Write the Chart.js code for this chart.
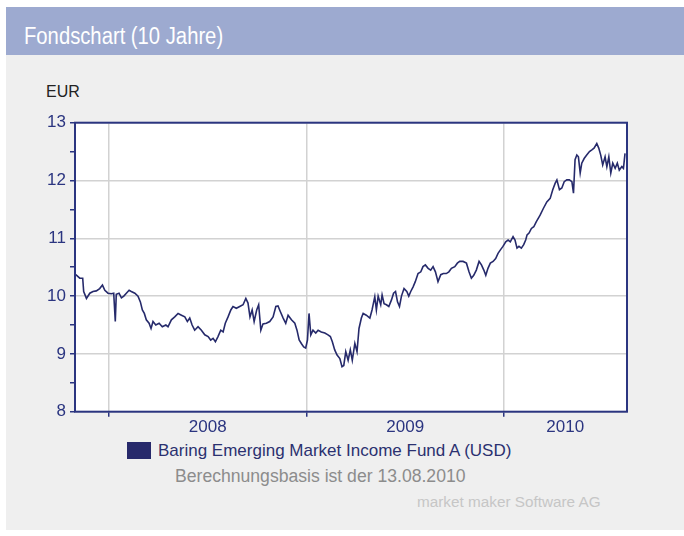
<!DOCTYPE html>
<html>
<head>
<meta charset="utf-8">
<script src="https://cdn.jsdelivr.net/npm/chart.js@4"></script>
<style>
  html, body { margin:0; padding:0; background:#ffffff; }
  body { width:684px; height:536px; position:relative; overflow:hidden; font-family:"Liberation Sans", Arial, sans-serif; }
  #panel { position:absolute; left:6px; top:7px; width:678px; height:523px; background:#efefef; }
  #header { position:absolute; left:6px; top:7px; width:678px; height:48px; background:#9daad0; }
  #title { position:absolute; left:18px; top:14px; color:#ffffff; font-size:23px; line-height:30px; white-space:nowrap; transform:scaleX(0.88); transform-origin:left center; }
  #unit { position:absolute; left:46px; top:83px; font-size:16px; line-height:18px; color:#222222; }
  #chartwrap { position:absolute; left:0; top:100px; width:684px; height:340px; }
  #legendBox { position:absolute; left:127px; top:442px; width:24px; height:17px; background:#27296b; }
  #legendText { position:absolute; left:158px; top:441px; font-size:17px; line-height:20px; color:#2b3170; white-space:nowrap; }
  #basis { position:absolute; left:175px; top:466px; font-size:17.6px; line-height:20px; color:#8c8c8c; white-space:nowrap; }
  #credit { position:absolute; left:417px; top:493px; font-size:15.3px; line-height:18px; color:#c6c6c6; white-space:nowrap; }
</style>
</head>
<body>
<div id="panel"></div>
<div id="header"><div id="title">Fondschart (10 Jahre)</div></div>
<div id="unit">EUR</div>
<div id="chartwrap"><canvas id="c" width="684" height="340" style="width:684px;height:340px"></canvas></div>
<div id="legendBox"></div>
<div id="legendText"></div>
<div id="basis">Berechnungsbasis ist der 13.08.2010</div>
<div id="credit">market maker Software AG</div>
<script>
// ---- data (time as decimal year) ----
const seriesName = "Baring Emerging Market Income Fund A (USD)";
const times = [
2007.832,2007.852,2007.867,2007.872,2007.886,2007.903,2007.919,2007.936,2007.953,2007.967,
2007.979,2007.995,2008.012,2008.024,2008.032,2008.037,2008.051,2008.063,2008.075,2008.088,
2008.102,2008.113,2008.131,2008.147,2008.159,2008.169,2008.179,2008.189,2008.203,2008.213,
2008.223,2008.237,2008.254,2008.270,2008.288,2008.299,2008.316,2008.333,2008.350,2008.367,
2008.384,2008.397,2008.409,2008.421,2008.434,2008.451,2008.468,2008.485,2008.502,2008.515,
2008.527,2008.539,2008.552,2008.566,2008.578,2008.589,2008.603,2008.617,2008.628,2008.645,
2008.662,2008.679,2008.693,2008.704,2008.714,2008.725,2008.735,2008.748,2008.758,2008.769,
2008.780,2008.797,2008.814,2008.831,2008.845,2008.856,2008.868,2008.882,2008.895,2008.907,
2008.924,2008.941,2008.952,2008.963,2008.974,2008.986,2008.996,2009.005,2009.013,2009.022,
2009.033,2009.047,2009.059,2009.075,2009.093,2009.109,2009.121,2009.131,2009.143,2009.155,
2009.169,2009.180,2009.189,2009.199,2009.211,2009.222,2009.232,2009.245,2009.256,2009.266,
2009.278,2009.287,2009.303,2009.321,2009.332,2009.346,2009.354,2009.363,2009.376,2009.383,
2009.393,2009.405,2009.417,2009.430,2009.441,2009.451,2009.461,2009.471,2009.481,2009.494,
2009.508,2009.518,2009.528,2009.540,2009.551,2009.565,2009.579,2009.590,2009.602,2009.616,
2009.629,2009.641,2009.653,2009.666,2009.680,2009.693,2009.708,2009.721,2009.734,2009.751,
2009.764,2009.776,2009.793,2009.810,2009.823,2009.835,2009.847,2009.860,2009.874,2009.886,
2009.898,2009.908,2009.919,2009.931,2009.945,2009.958,2009.970,2009.982,2009.995,2010.009,
2010.021,2010.032,2010.046,2010.056,2010.066,2010.076,2010.088,2010.100,2010.110,2010.117,
2010.127,2010.139,2010.151,2010.164,2010.178,2010.183,2010.200,2010.217,2010.234,2010.247,
2010.259,2010.268,2010.281,2010.293,2010.305,2010.318,2010.331,2010.344,2010.352,2010.360,
2010.369,2010.377,2010.386,2010.394,2010.406,2010.419,2010.433,2010.445,2010.456,2010.470,
2010.480,2010.490,2010.500,2010.512,2010.521,2010.531,2010.541,2010.551,2010.563,2010.574,
2010.584,2010.597,2010.605,2010.613
];
const prices = [
10.37,10.31,10.31,10.08,9.96,10.05,10.08,10.09,10.13,10.19,
10.10,10.05,10.04,10.05,9.56,10.03,10.05,9.97,10.00,10.05,
10.10,10.08,10.05,10.00,9.90,9.76,9.70,9.59,9.53,9.44,
9.56,9.50,9.53,9.47,9.50,9.47,9.59,9.64,9.70,9.67,
9.64,9.56,9.62,9.50,9.41,9.47,9.41,9.33,9.30,9.24,
9.27,9.21,9.30,9.41,9.38,9.53,9.64,9.76,9.82,9.79,
9.82,9.85,9.96,9.88,9.64,9.76,9.56,9.76,9.85,9.41,
9.52,9.53,9.56,9.64,9.82,9.83,9.73,9.62,9.53,9.67,
9.59,9.53,9.41,9.24,9.18,9.12,9.10,9.24,9.70,9.33,
9.41,9.36,9.41,9.38,9.36,9.33,9.30,9.21,9.07,8.98,
8.92,8.78,8.80,9.04,8.89,9.07,8.89,9.18,9.04,9.44,
9.62,9.70,9.67,9.62,9.76,9.99,9.76,10.00,9.85,10.02,
9.87,9.85,9.82,9.93,10.05,10.08,9.90,9.82,10.00,10.13,
10.08,10.00,10.08,10.16,10.25,10.39,10.42,10.51,10.54,10.48,
10.45,10.51,10.42,10.25,10.37,10.39,10.39,10.42,10.48,10.51,
10.57,10.60,10.60,10.57,10.42,10.31,10.36,10.45,10.60,10.54,
10.45,10.36,10.48,10.57,10.60,10.65,10.74,10.80,10.86,10.94,
10.97,10.94,11.03,10.97,10.83,10.86,10.83,10.89,10.97,11.06,
11.09,11.17,11.20,11.29,11.37,11.40,11.52,11.63,11.69,11.84,
11.95,12.01,11.84,11.87,11.98,12.01,12.01,11.98,11.78,12.36,
12.44,12.41,12.13,12.30,12.38,12.44,12.50,12.53,12.56,12.64,
12.56,12.44,12.27,12.41,12.24,12.41,12.13,12.30,12.21,12.30,
12.18,12.24,12.21,12.47
];
const xMin = 2007.828, xMax = 2010.623;
const yearGridTicks = [2008, 2009, 2010];
const yearLabelTicks = [2008.5, 2009.5, 2010.31];
const yearLabels = ["2008", "2009", "2010"];
const yMin = 8, yMax = 13;
const yTickLabels = ["8","9","10","11","12","13"];

document.getElementById('legendText').textContent = seriesName;

const navy = '#2b3580';
const gridGray = '#d2d2d2';

const frame = {
  id: 'frame',
  beforeDraw(chart) {
    const a = chart.chartArea, ctx = chart.ctx;
    ctx.save();
    ctx.fillStyle = '#ffffff';
    ctx.fillRect(a.left, a.top, a.right - a.left, a.bottom - a.top);
    ctx.restore();
  },
  afterDraw(chart) {
    const a = chart.chartArea, ctx = chart.ctx;
    ctx.save();
    ctx.strokeStyle = navy;
    ctx.lineWidth = 2;
    ctx.strokeRect(a.left, a.top, a.right - a.left, a.bottom - a.top);
    ctx.restore();
  }
};

new Chart(document.getElementById('c'), {
  type: 'line',
  data: {
    datasets: [{
      label: seriesName,
      data: times.map((t, i) => ({ x: t, y: prices[i] })),
      borderColor: '#262a6b',
      borderWidth: 1.6,
      pointRadius: 0,
      tension: 0,
      fill: false
    }]
  },
  options: {
    responsive: false,
    animation: false,
    events: [],
    layout: { padding: { left: 0, top: 22.7, right: 57, bottom: 0 } },
    plugins: { legend: { display: false }, tooltip: { enabled: false } },
    scales: {
      x: {
        type: 'linear',
        min: xMin, max: xMax,
        afterBuildTicks(scale) {
          scale.ticks = yearGridTicks.concat(yearLabelTicks).sort((a, b) => a - b).map(v => ({ value: v }));
        },
        afterFit(scale) { scale.height = 28.3; },
        border: { display: false },
        grid: {
          color: ctx => (ctx.tick && yearGridTicks.includes(ctx.tick.value)) ? gridGray : 'rgba(0,0,0,0)',
          tickColor: ctx => (ctx.tick && yearGridTicks.includes(ctx.tick.value)) ? navy : 'rgba(0,0,0,0)',
          lineWidth: 1.5,
          tickLength: 5,
          tickWidth: 1.5
        },
        ticks: {
          autoSkip: false,
          maxRotation: 0,
          padding: 0,
          color: navy,
          font: { family: '"Liberation Sans", Arial, sans-serif', size: 17 },
          callback: v => {
            const i = yearLabelTicks.indexOf(v);
            return i >= 0 ? yearLabels[i] : '';
          }
        }
      },
      y: {
        min: yMin, max: yMax,
        afterBuildTicks(scale) {
          const t = [];
          for (let v = yMin; v <= yMax + 1e-9; v += 0.5) t.push({ value: v });
          scale.ticks = t;
        },
        afterFit(scale) { scale.width = 75; },
        border: { display: false },
        grid: {
          color: ctx => (ctx.tick && Number.isInteger(ctx.tick.value)) ? gridGray : 'rgba(0,0,0,0)',
          tickColor: navy,
          lineWidth: 1.5,
          tickLength: 5,
          tickWidth: 1.5
        },
        ticks: {
          padding: 4,
          color: navy,
          font: { family: '"Liberation Sans", Arial, sans-serif', size: 17 },
          callback: v => Number.isInteger(v) ? yTickLabels[v - yMin] : ''
        }
      }
    }
  },
  plugins: [frame]
});
</script>
</body>
</html>
